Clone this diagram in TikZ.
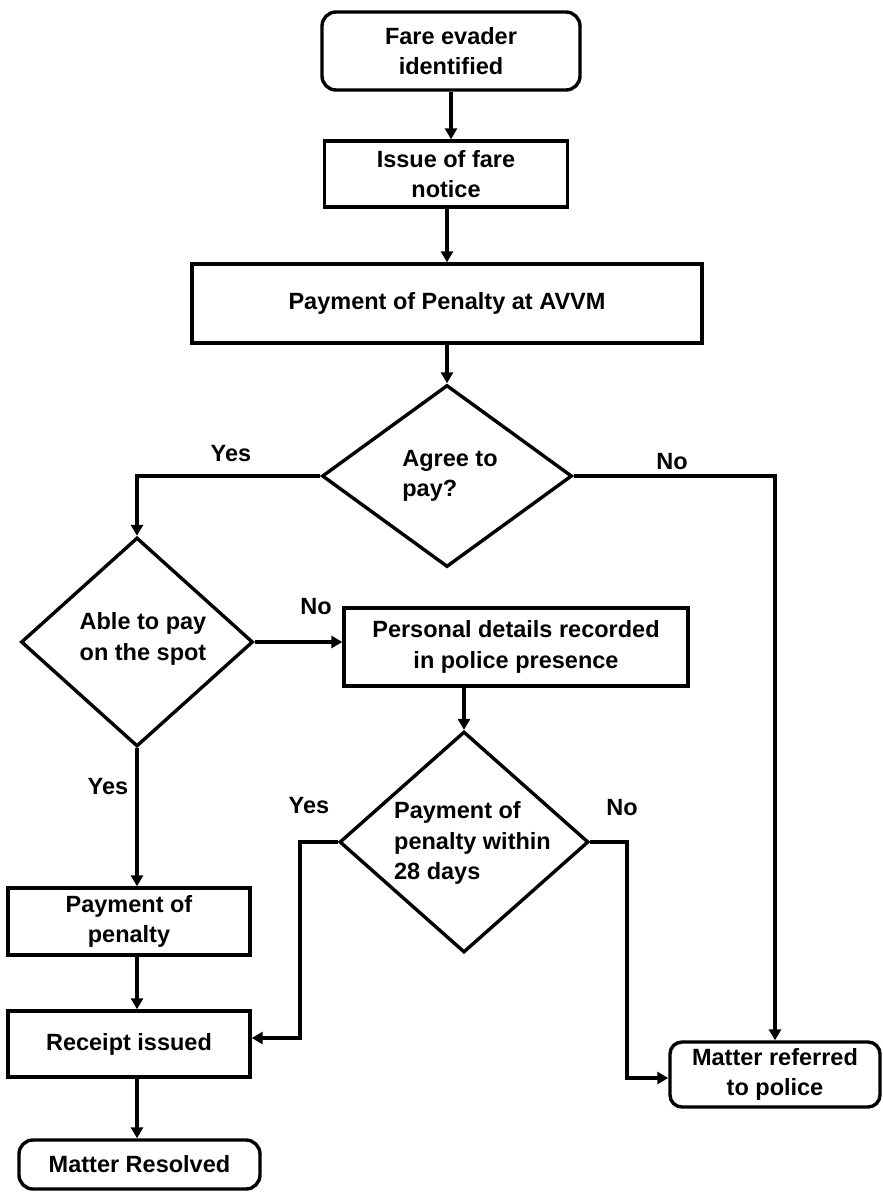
\documentclass[tikz,border=0pt]{standalone}
\usepackage{fontspec}
\setmainfont{Liberation Sans}
\usetikzlibrary{shapes.geometric,arrows.meta}
\begin{document}
\begin{tikzpicture}[x=1pt,y=-1pt,
  tfont/.style={font=\bfseries\fontsize{23.5}{30.5}\selectfont},
  box/.style={draw, line width=3.4pt, inner sep=0pt, align=center, tfont},
  rbox/.style={box, rounded corners=14pt},
  dia/.style={draw, diamond, line width=3.4pt, inner sep=0pt},
  txt/.style={tfont, align=center, inner sep=0pt},
  lbl/.style={tfont, inner sep=0pt},
  conn/.style={line width=3.4pt, -{Triangle[length=11pt,width=12pt]}}]
\useasboundingbox (0,0) rectangle (883,1192);
\fill[white] (0,0) rectangle (883,1192);

\node[rbox, minimum width=258pt, minimum height=78pt] (fare) at (451,51) {Fare evader\\identified};
\node[box, minimum width=243pt, minimum height=66pt] (issue) at (446,174) {Issue of fare\\notice};
\node[box, minimum width=510pt, minimum height=79pt] (avvm) at (447,303.5) {Payment of Penalty at AVVM};
\node[dia, minimum width=250pt, minimum height=182pt] (agree) at (447,476) {};
\node[txt, align=left] (agreeT) at (450,476) {Agree to\\pay?};
\node[dia, minimum width=232pt, minimum height=209pt] (able) at (137,642) {};
\node[txt] (ableT) at (143,639) {Able to pay\\on the spot};
\node[box, minimum width=344pt, minimum height=78pt] (pers) at (516,647) {Personal details recorded\\in police presence};
\node[dia, minimum width=249pt, minimum height=221pt] (within) at (464,842) {};
\node[txt, align=left] (withinT) at (472.5,843) {Payment of\\penalty within\\28 days};
\node[box, minimum width=242pt, minimum height=67pt] (payp) at (129,921.5) {Payment of\\penalty};
\node[box, minimum width=242pt, minimum height=66pt] (receipt) at (129,1044) {Receipt issued};
\node[rbox, minimum width=241pt, minimum height=49pt] (resolved) at (139.5,1164.5) {Matter Resolved};
\node[rbox, rounded corners=12pt, minimum width=210pt, minimum height=65pt] (referred) at (775,1074.5) {Matter referred\\to police};

\node[lbl] (l1) at (231,454) {Yes};
\node[lbl] (l2) at (672,462) {No};
\node[lbl] (l3) at (316,607) {No};
\node[lbl] (l4) at (108,787) {Yes};
\node[lbl] (l5) at (309,806) {Yes};
\node[lbl] (l6) at (622,808) {No};

\coordinate (yj) at (300,1038);
\coordinate (nj) at (627,1078);

\draw[conn] (fare.south) -- (fare.south |- issue.north);
\draw[conn] (avvm.north |- issue.south) -- (avvm.north);
\draw[conn] (avvm.south) -- (agree.north);
\draw[conn] (agree.west) -| (able.north);
\draw[conn] (agree.east) -| (referred.north);
\draw[conn] (able.east) -- (able.east -| pers.west);
\draw[conn] (within.north |- pers.south) -- (within.north);
\draw[conn] (able.south) -- (able.south |- payp.north);
\draw[conn] (able.south |- payp.south) -- (able.south |- receipt.north);
\draw[conn] (able.south |- receipt.south) -- (able.south |- resolved.north);
\draw[conn] (within.west) -| (yj) -- (yj -| receipt.east);
\draw[conn] (within.east) -| (nj) -- (nj -| referred.west);
\end{tikzpicture}
\end{document}
